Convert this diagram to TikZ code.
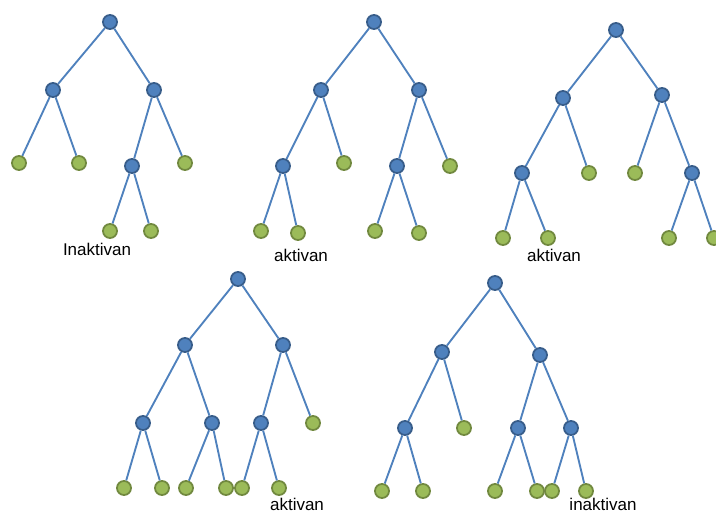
\documentclass[tikz,border=0pt]{standalone}
\usepackage{fontspec}
\setmainfont{Liberation Sans}

\definecolor{nodeblue}{HTML}{4F81BD}
\definecolor{nodeblueline}{HTML}{385D8A}
\definecolor{leafgreen}{HTML}{9BBB59}
\definecolor{leafgreenline}{HTML}{71893F}

\tikzset{
	inner/.style={circle, fill=nodeblue, draw=nodeblueline, line width=1.5pt, minimum size=12pt, inner sep=0pt},
	leaf/.style={circle, fill=leafgreen, draw=leafgreenline, line width=1.5pt, minimum size=12pt, inner sep=0pt},
	edge/.style={draw=nodeblue, line width=1.6pt},
	state/.style={font=\fontsize{14.5}{16}\selectfont, inner sep=0pt}
}

\begin{document}
\begin{tikzpicture}[x=0.03cm, y=-0.03cm]
			\path[use as bounding box] (0,0) rectangle (716,513);
			
			% Tree 1
			\node[inner] (a0) at (110,22) {};
			\node[inner] (a1) at (53,90) {};
			\node[inner] (a2) at (154,90) {};
			\node[leaf] (a3) at (19,163) {};
			\node[leaf] (a4) at (79,163) {};
			\node[inner] (a5) at (132,166) {};
			\node[leaf] (a6) at (185,163) {};
			\node[leaf] (a7) at (110,231) {};
			\node[leaf] (a8) at (151,231) {};
			\foreach \p/\c in {a0/a1, a0/a2, a1/a3, a1/a4, a2/a5, a2/a6, a5/a7, a5/a8}
				\draw[edge] (\p) -- (\c);
			\node[state] (la) at (97,249) {Inaktivan};
			
			% Tree 2
			\node[inner] (b0) at (374,22) {};
			\node[inner] (b1) at (321,90) {};
			\node[inner] (b2) at (419,90) {};
			\node[inner] (b3) at (283,166) {};
			\node[leaf] (b4) at (344,163) {};
			\node[inner] (b5) at (397,166) {};
			\node[leaf] (b6) at (450,166) {};
			\node[leaf] (b7) at (261,231) {};
			\node[leaf] (b8) at (298,233) {};
			\node[leaf] (b9) at (375,231) {};
			\node[leaf] (b10) at (419,233) {};
			\foreach \p/\c in {b0/b1, b0/b2, b1/b3, b1/b4, b2/b5, b2/b6, b3/b7, b3/b8, b5/b9, b5/b10}
				\draw[edge] (\p) -- (\c);
			\node[state] (lb) at (301,255) {aktivan};
			
			% Tree 3
			\node[inner] (c0) at (616,30) {};
			\node[inner] (c1) at (563,98) {};
			\node[inner] (c2) at (662,95) {};
			\node[inner] (c3) at (522,173) {};
			\node[leaf] (c4) at (589,173) {};
			\node[leaf] (c5) at (635,173) {};
			\node[inner] (c6) at (692,173) {};
			\node[leaf] (c7) at (503,238) {};
			\node[leaf] (c8) at (548,238) {};
			\node[leaf] (c9) at (669,238) {};
			\node[leaf] (c10) at (714,238) {};
			\foreach \p/\c in {c0/c1, c0/c2, c1/c3, c1/c4, c2/c5, c2/c6, c3/c7, c3/c8, c6/c9, c6/c10}
				\draw[edge] (\p) -- (\c);
			\node[state] (lc) at (554,255) {aktivan};
			
			% Tree 4
			\node[inner] (d0) at (238,279) {};
			\node[inner] (d1) at (185,345) {};
			\node[inner] (d2) at (283,345) {};
			\node[inner] (d3) at (143,423) {};
			\node[inner] (d4) at (212,423) {};
			\node[inner] (d5) at (261,423) {};
			\node[leaf] (d6) at (313,423) {};
			\node[leaf] (d7) at (124,488) {};
			\node[leaf] (d8) at (162,488) {};
			\node[leaf] (d9) at (186,488) {};
			\node[leaf] (d10) at (226,488) {};
			\node[leaf] (d11) at (242,488) {};
			\node[leaf] (d12) at (279,488) {};
			\foreach \p/\c in {d0/d1, d0/d2, d1/d3, d1/d4, d2/d5, d2/d6, d3/d7, d3/d8, d4/d9, d4/d10, d5/d11, d5/d12}
				\draw[edge] (\p) -- (\c);
			\node[state] (ld) at (297,504) {aktivan};
			
			% Tree 5
			\node[inner] (e0) at (495,283) {};
			\node[inner] (e1) at (442,352) {};
			\node[inner] (e2) at (540,355) {};
			\node[inner] (e3) at (405,428) {};
			\node[leaf] (e4) at (464,428) {};
			\node[inner] (e5) at (518,428) {};
			\node[inner] (e6) at (571,428) {};
			\node[leaf] (e7) at (382,491) {};
			\node[leaf] (e8) at (423,491) {};
			\node[leaf] (e9) at (495,491) {};
			\node[leaf] (e10) at (537,491) {};
			\node[leaf] (e11) at (552,491) {};
			\node[leaf] (e12) at (586,491) {};
			\foreach \p/\c in {e0/e1, e0/e2, e1/e3, e1/e4, e2/e5, e2/e6, e3/e7, e3/e8, e5/e9, e5/e10, e6/e11, e6/e12}
				\draw[edge] (\p) -- (\c);
			\node[state] (le) at (603,504) {inaktivan};
			
		\end{tikzpicture}
\end{document}
